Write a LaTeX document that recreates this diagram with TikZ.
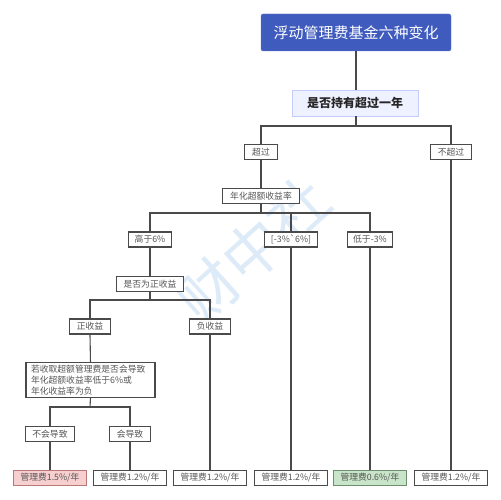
\documentclass[tikz,border=0pt]{standalone}
\usepackage{fontspec}
\setmainfont{Noto Sans CJK SC}
\newfontfamily\cjk{Noto Sans CJK SC}
\definecolor{titleblue}{HTML}{3F5BBD}
\definecolor{qfill}{HTML}{EEF1FF}
\definecolor{qdraw}{HTML}{C3CCFA}
\definecolor{edge}{HTML}{4A4A4A}
\definecolor{txt}{HTML}{555555}
\definecolor{pinkfill}{HTML}{F7CFCF}
\definecolor{pinkdraw}{HTML}{B87878}
\definecolor{greenfill}{HTML}{C9E5C9}
\definecolor{greendraw}{HTML}{6E8E6E}
\definecolor{wm}{HTML}{DDEBF8}
\begin{document}
\begin{tikzpicture}[x=1pt,y=-1pt,
  titlebox/.style={fill=titleblue, draw=titleblue!80!white, rounded corners=2pt, minimum width=190pt, minimum height=37pt, inner sep=0pt, text=white, font=\cjk\fontsize{15}{17}\selectfont},
  qbox/.style={fill=qfill, draw=qdraw, line width=0.8pt, minimum width=126pt, minimum height=26pt, inner sep=0pt, text=black!85, font=\cjk\bfseries\fontsize{12}{14}\selectfont},
  lbl/.style={draw=edge, line width=1.1pt, fill=white, minimum height=15pt, inner xsep=3.5pt, inner ysep=0pt, text=txt, font=\cjk\fontsize{8.8}{11}\selectfont},
  leaf/.style={lbl, minimum width=73pt},
  conn/.style={draw=edge, line width=1.1pt}
]
\useasboundingbox (0,0) rectangle (501,500);
\fill[white] (0,0) rectangle (501,500);

% watermark (behind everything)
\node[text=wm, rotate=42, font=\cjk\fontsize{60}{60}\selectfont, inner sep=0pt] (wmk) at (253,250) {财中社};

\coordinate (b1) at (356,126);
\coordinate (b2) at (261,213);
\coordinate (b3) at (150,300);
\coordinate (b4) at (90,407);

\node[titlebox] (title) at (356,32.5) {浮动管理费基金六种变化};
\node[qbox] (q) at (355,103) {是否持有超过一年};

\node[lbl, minimum width=33pt] (yes) at (261,152) {超过};
\node[lbl, minimum width=41pt] (no) at (451,152) {不超过};
\node[lbl, minimum width=77pt] (rate) at (261,196) {年化超额收益率};
\node[lbl, minimum width=43pt] (high) at (150,239.5) {高于6\%};
\node[lbl, minimum width=53pt] (mid) at (291,239.5) {[-3\%\textasciigrave 6\%]};
\node[lbl, minimum width=45pt] (low) at (370,239.5) {低于-3\%};
\node[lbl, minimum width=67pt] (pos) at (150,284) {是否为正收益};
\node[lbl, minimum width=41pt] (zheng) at (90,326.5) {正收益};
\node[lbl, minimum width=41pt] (fu) at (210,326.5) {负收益};
\node[draw=edge, line width=1.1pt, fill=white, minimum width=129pt, minimum height=34pt, inner xsep=5pt, inner ysep=2pt, text=txt, font=\cjk\fontsize{8.8}{11}\selectfont, align=left, text width=119pt] (big) at (90.5,380) {若收取超额管理费是否会导致\\年化超额收益率低于6\%或\\年化收益率为负};
\node[lbl, minimum width=49pt] (not) at (50,434) {不会导致};
\node[lbl, minimum width=41pt] (will) at (130,434) {会导致};

\node[leaf, fill=pinkfill, draw=pinkdraw] (l1) at (50,478) {管理费1.5\%/年};
\node[leaf] (l2) at (130,478) {管理费1.2\%/年};
\node[leaf] (l3) at (210,478) {管理费1.2\%/年};
\node[leaf] (l4) at (291,478) {管理费1.2\%/年};
\node[leaf, fill=greenfill, draw=greendraw] (l5) at (370,478) {管理费0.6\%/年};
\node[leaf] (l6) at (451,478) {管理费1.2\%/年};

\draw[conn] (title.south) -- (q.north -| title.south);
\draw[conn] (q.south -| title.south) -- (b1);
\draw[conn] (b1) -| (yes.north);
\draw[conn] (b1) -| (no.north);
\draw[conn] (yes.south) -- (rate.north);
\draw[conn] (no.south) -- (l6.north);
\draw[conn] (rate.south) -- (b2);
\draw[conn] (b2) -| (high.north);
\draw[conn] (b2) -| (mid.north);
\draw[conn] (b2) -| (low.north);
\draw[conn] (high.south) -- (pos.north);
\draw[conn] (mid.south) -- (l4.north);
\draw[conn] (low.south) -- (l5.north);
\draw[conn] (pos.south) -- (b3);
\draw[conn] (b3) -| (zheng.north);
\draw[conn] (b3) -| (fu.north);
\draw[conn] (zheng.south) -- (big.north);
\draw[conn] (fu.south) -- (l3.north);
\draw[conn] (big.south) -- (b4);
\draw[conn] (b4) -| (not.north);
\draw[conn] (b4) -| (will.north);
\draw[conn] (not.south) -- (l1.north);
\draw[conn] (will.south) -- (l2.north);
\end{tikzpicture}
\end{document}
